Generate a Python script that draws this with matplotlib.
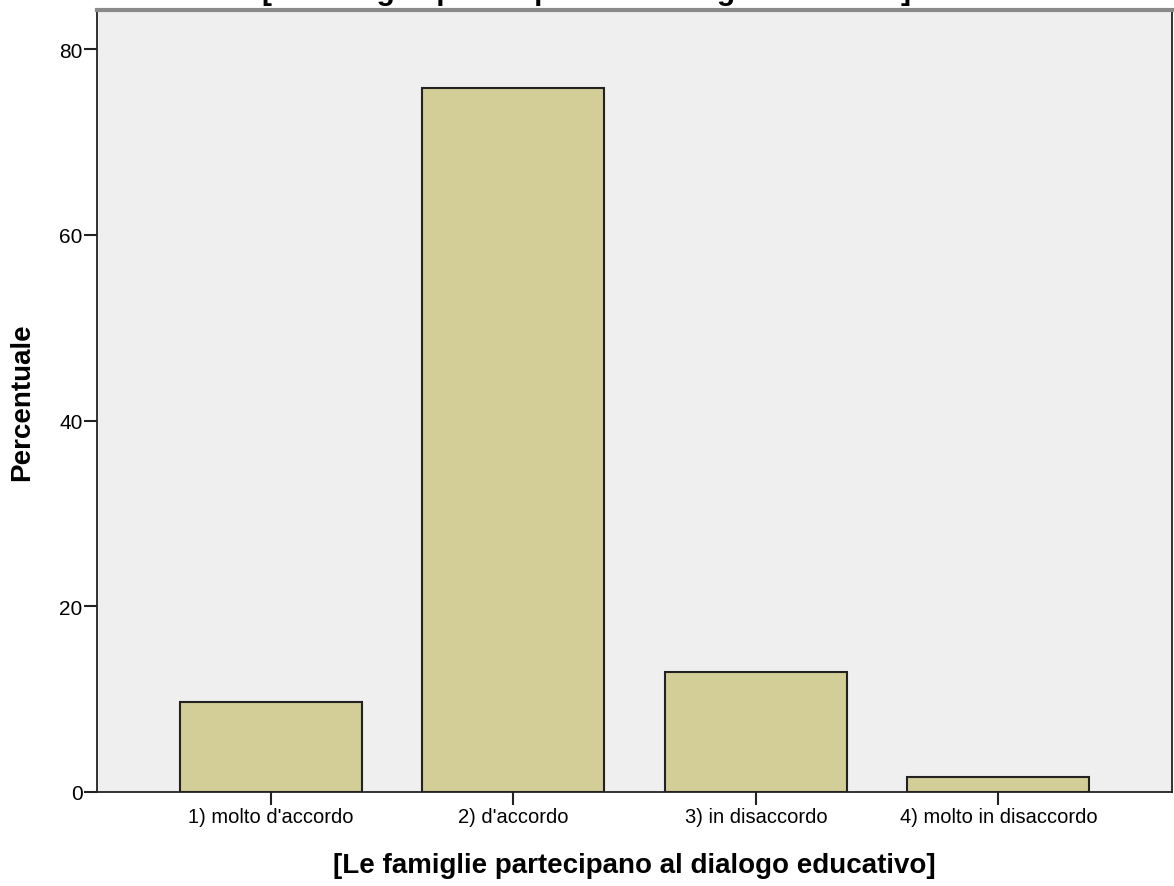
import matplotlib.pyplot as plt

plt.rcParams['font.family'] = ['Liberation Sans', 'DejaVu Sans']

categorie = ["1) molto d'accordo", "2) d'accordo", "3) in disaccordo", "4) molto in disaccordo"]
percentuali = [9.7, 75.8, 12.9, 1.6]
yticks = [0, 20, 40, 60, 80]
titolo = "[Le famiglie partecipano al dialogo educativo]"

fig = plt.figure(figsize=(11.74, 8.87), dpi=100)
ax = fig.add_axes([97 / 1174, 1 - 793 / 887, (1172 - 97) / 1174, (793 - 11) / 887])
ax.set_facecolor('#efefef')

posizioni = range(len(categorie))
ax.bar(posizioni, percentuali, width=0.75, color='#d3ce97', edgecolor='#222222', linewidth=1.5)

ax.set_xlim(-0.717, 3.716)
ax.set_ylim(0, 84.2)
ax.set_xticks(list(posizioni))
ax.set_xticklabels(categorie, fontsize=14.5)
ax.set_yticks(yticks)
ax.set_yticklabels([str(v) for v in yticks], fontsize=15)
ax.tick_params(axis='both', length=9.5, width=1.5, color='#222222', pad=1)

for lato in ['left', 'bottom', 'right']:
    ax.spines[lato].set_linewidth(1.3)
    ax.spines[lato].set_color('#222222')
ax.spines['top'].set_linewidth(3)
ax.spines['top'].set_color('#8a8a8a')

ax.set_xlabel(titolo, fontsize=20, fontweight='bold')
ax.xaxis.set_label_coords(0.5, -0.077)
ax.set_ylabel('Percentuale', fontsize=20, fontweight='bold')
ax.yaxis.set_label_coords(-0.058, 0.5)

# titolo tagliato in alto come nell'originale
fig.text(0.5, 1.0, titolo, ha='center', va='baseline', fontsize=21.5, fontweight='bold')

fig.savefig('out.png', dpi=100)
